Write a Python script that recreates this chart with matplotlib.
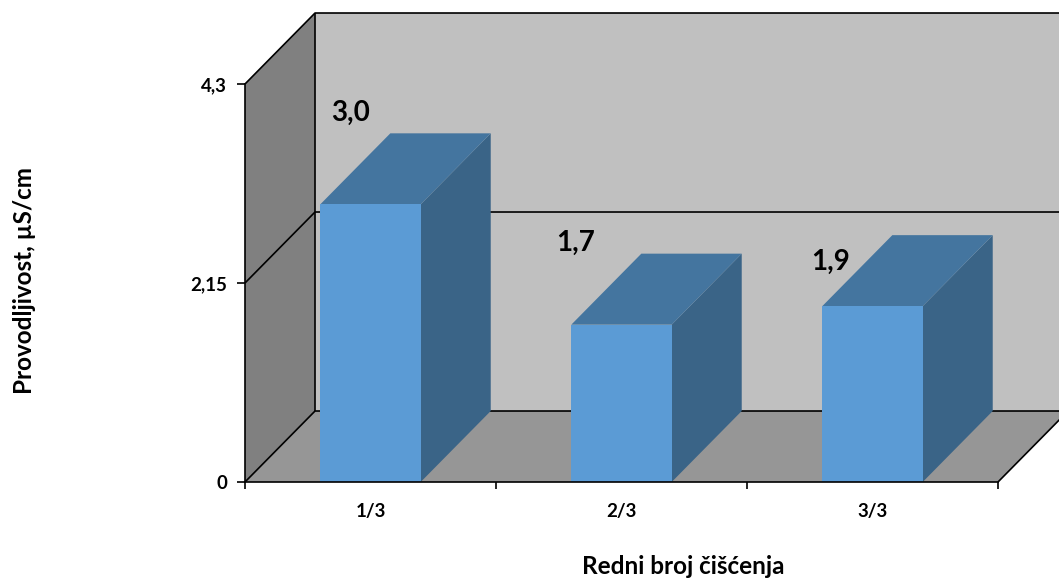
import matplotlib.pyplot as plt
from matplotlib.patches import Polygon

plt.rcParams['font.family'] = ['Lato', 'DejaVu Sans']

# data
categories = ['1/3', '2/3', '3/3']
values = [3.0, 1.7, 1.9]
value_labels = ['3,0', '1,7', '1,9']
y_ticks = [0, 2.15, 4.3]
y_tick_labels = ['0', '2,15', '4,3']

# colours
c_front = '#5B9BD5'
c_top = '#44759F'
c_side = '#3A6487'
c_back = '#C0C0C0'
c_left = '#808080'
c_floor = '#969696'

ymax = 4.3
n = len(categories)
dx, dy = 0.279, 0.767        # depth offset (data units)
bar_w = 0.40
gap = (1 - bar_w) / 2
# where Excel put the value labels, relative to bar front-left / bar value
label_off = [(0.122, 0.987), (0.019, 0.882), (0.031, 0.477)]

fig = plt.figure(figsize=(10.59, 5.81), dpi=100)
W, H = 1059, 581
ax = fig.add_axes([245 / W, (H - 482) / H, (998 - 245) / W, (482 - 84) / H])
ax.set_xlim(0, n)
ax.set_ylim(0, ymax)
ax.set_facecolor('none')

def poly(pts, color, z, lw=0, ec='none'):
    ax.add_patch(Polygon(pts, closed=True, facecolor=color, edgecolor=ec,
                         linewidth=lw, zorder=z, clip_on=False))

# walls
poly([(dx, dy), (n + dx + 1, dy), (n + dx + 1, ymax + dy), (dx, ymax + dy)], c_back, 0)
poly([(0, 0), (dx, dy), (dx, ymax + dy), (0, ymax)], c_left, 0)
poly([(0, 0), (n, 0), (n + dx, dy), (dx, dy)], c_floor, 0)

line_kw = dict(color='black', lw=1.2, zorder=1, clip_on=False, solid_capstyle='butt')
for yv in [0, ymax / 2, ymax]:
    ax.plot([0, dx, n + dx], [yv, yv + dy, yv + dy], **line_kw)
ax.plot([dx, dx], [dy, ymax + dy], **line_kw)
ax.plot([n, n + dx], [0, dy], **line_kw)

# bars
for i, v in enumerate(values):
    x0 = i + gap
    x1 = x0 + bar_w
    poly([(x1, 0), (x1 + dx, dy), (x1 + dx, v + dy), (x1, v)], c_side, 2)
    poly([(x0, v), (x1, v), (x1 + dx, v + dy), (x0 + dx, v + dy)], c_top, 2)
    poly([(x0, 0), (x1, 0), (x1, v), (x0, v)], c_front, 3)
    ox, oy = label_off[i]
    ax.text(x0 + ox, v + oy, value_labels[i], ha='center', va='center',
            fontsize=20, fontweight='bold', zorder=5)

# axes
for s in ['top', 'right']:
    ax.spines[s].set_visible(False)
for s in ['left', 'bottom']:
    ax.spines[s].set_linewidth(1.2)
    ax.spines[s].set_zorder(4)
ax.set_yticks(y_ticks)
ax.set_yticklabels(y_tick_labels, fontsize=13.5, fontweight='bold')
ax.tick_params(axis='y', length=6, width=1.2, pad=7)
ax.set_xticks([i + 0.5 for i in range(n)])
ax.set_xticklabels(categories, fontsize=13.5, fontweight='bold')
ax.set_xticks(range(n + 1), minor=True)
ax.tick_params(axis='x', which='major', length=0, pad=15)
ax.tick_params(axis='x', which='minor', length=5, width=1.2)

fig.text(683 / W, 1 - 566 / H, 'Redni broj čišćenja', ha='center', va='center',
         fontsize=17.5, fontweight='bold')
fig.text(25 / W, 1 - 280 / H, 'Provodljivost, µS/cm', ha='center', va='center',
         rotation=90, fontsize=17.5, fontweight='bold')

fig.savefig('out.png', dpi=100)
